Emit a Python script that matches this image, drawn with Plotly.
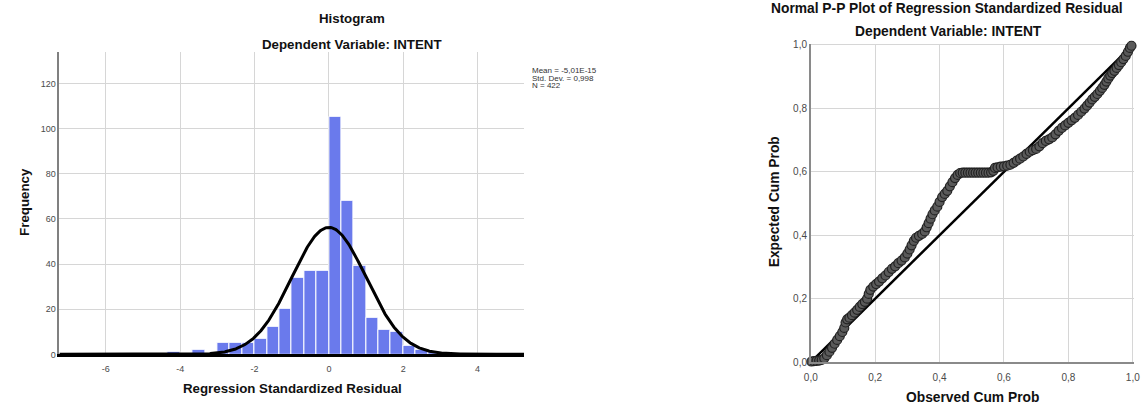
import math
import plotly.graph_objects as go

W, H = 1145, 415

# ---------------- Histogram data ----------------
bin_start = -13 / 3          # left edge of first bin
bin_width = 1 / 3
counts = [1, 0, 2, 0, 5, 5, 5, 7, 12, 20, 34, 37, 37, 105, 68, 39, 16, 11, 10, 4, 2, 1]
hist_mean = -5.01e-15
hist_sd = 0.998
hist_n = 422
hist_xticks = [-6, -4, -2, 0, 2, 4]
hist_yticks = [0, 20, 40, 60, 80, 100, 120]
stats_lines = ["Mean = -5,01E-15", "Std. Dev. = 0,998", "N = 422"]

# ---------------- P-P plot data ----------------
obs_cum = [0.002, 0.010, 0.018, 0.026, 0.034, 0.042, 0.050, 0.058, 0.066, 0.074, 0.082, 0.090,
           0.098, 0.104, 0.108, 0.113, 0.120, 0.128, 0.136, 0.144, 0.152, 0.160, 0.168, 0.175,
           0.180, 0.185, 0.194, 0.203, 0.212, 0.222, 0.232, 0.242, 0.252, 0.262, 0.272, 0.282,
           0.292, 0.300, 0.307, 0.313, 0.320, 0.327, 0.336, 0.346, 0.354, 0.360, 0.366, 0.372,
           0.378, 0.385, 0.393, 0.400, 0.408, 0.416, 0.424, 0.432, 0.440, 0.448, 0.456, 0.464,
           0.472, 0.480, 0.488, 0.496, 0.504, 0.512, 0.520, 0.528, 0.536, 0.544, 0.552, 0.560,
           0.567, 0.572, 0.580, 0.590, 0.600, 0.610, 0.620, 0.630, 0.640, 0.650, 0.660, 0.670,
           0.680, 0.690, 0.700, 0.710, 0.720, 0.730, 0.740, 0.750, 0.760, 0.770, 0.780, 0.790,
           0.800, 0.810, 0.820, 0.830, 0.840, 0.850, 0.858, 0.866, 0.874, 0.882, 0.890, 0.898,
           0.905, 0.912, 0.918, 0.924, 0.930, 0.936, 0.943, 0.950, 0.957, 0.964, 0.971, 0.978,
           0.985, 0.991, 0.996]
exp_cum = [0.002, 0.003, 0.004, 0.005, 0.007, 0.012, 0.022, 0.033, 0.045, 0.058, 0.070, 0.082,
           0.095, 0.108, 0.125, 0.135, 0.140, 0.148, 0.156, 0.165, 0.174, 0.183, 0.190, 0.200,
           0.215, 0.228, 0.238, 0.246, 0.254, 0.264, 0.273, 0.284, 0.294, 0.302, 0.312, 0.320,
           0.330, 0.342, 0.355, 0.368, 0.382, 0.392, 0.398, 0.404, 0.412, 0.425, 0.438, 0.452,
           0.466, 0.478, 0.490, 0.505, 0.520, 0.530, 0.540, 0.554, 0.567, 0.580, 0.590, 0.596,
           0.597, 0.597, 0.597, 0.597, 0.597, 0.597, 0.597, 0.597, 0.597, 0.597, 0.597, 0.598,
           0.603, 0.612, 0.614, 0.616, 0.617, 0.619, 0.622, 0.628, 0.635, 0.641, 0.648, 0.656,
           0.663, 0.668, 0.672, 0.680, 0.690, 0.697, 0.702, 0.708, 0.718, 0.729, 0.738, 0.746,
           0.754, 0.762, 0.770, 0.779, 0.789, 0.799, 0.808, 0.818, 0.828, 0.836, 0.845, 0.855,
           0.864, 0.874, 0.884, 0.894, 0.903, 0.911, 0.918, 0.927, 0.936, 0.945, 0.955, 0.965,
           0.978, 0.990, 0.997]
diag_x = [0, 1]
diag_y = [0, 1]
pp_ticks = [0, 0.2, 0.4, 0.6, 0.8, 1.0]
pp_ticklabels = ["0,0", "0,2", "0,4", "0,6", "0,8", "1,0"]


def px_x(x):
    return x / W


def px_y(y):
    return 1 - y / H


FONT = "Liberation Sans, Arial, sans-serif"
GRID = "#d6d6d6"
TICKC = "#4a4a4a"

fig = go.Figure()

# histogram bars
centers = [bin_start + (i + 0.5) * bin_width for i in range(len(counts))]
fig.add_trace(go.Bar(
    x=centers, y=counts, width=bin_width,
    marker=dict(color="#6a7aec", line=dict(color="#ffffff", width=1)),
    xaxis="x", yaxis="y", showlegend=False,
))

# normal curve from mean / sd / N
xs = [-7.25 + i * 0.02 for i in range(int(12.5 / 0.02) + 1)]
ys = [hist_n * bin_width / (hist_sd * math.sqrt(2 * math.pi)) *
      math.exp(-0.5 * ((x - hist_mean) / hist_sd) ** 2) for x in xs]
fig.add_trace(go.Scatter(
    x=xs, y=ys, mode="lines", line=dict(color="#000000", width=3),
    xaxis="x", yaxis="y", showlegend=False,
))

# P-P diagonal
fig.add_trace(go.Scatter(
    x=diag_x, y=diag_y, mode="lines", line=dict(color="#000000", width=2.5),
    xaxis="x2", yaxis="y2", showlegend=False,
))
# P-P points
fig.add_trace(go.Scatter(
    x=obs_cum, y=exp_cum, mode="markers",
    marker=dict(size=9, color="#5a5a5a", line=dict(color="#222222", width=1.2)),
    xaxis="x2", yaxis="y2", showlegend=False, cliponaxis=False,
))

fig.update_layout(
    width=W, height=H,
    margin=dict(l=0, r=0, t=0, b=0),
    paper_bgcolor="white", plot_bgcolor="white",
    font=dict(family=FONT, color=TICKC),
    bargap=0,
    xaxis=dict(
        domain=[px_x(53), px_x(523)], range=[-7.25, 5.25],
        tickvals=hist_xticks, ticktext=[str(v) for v in hist_xticks],
        showgrid=True, gridcolor=GRID, gridwidth=1, zeroline=False,
        showline=True, linecolor="#000000", linewidth=3,
        ticks="", tickfont=dict(size=9, color=TICKC, family=FONT),
        ticklabelstandoff=4,
        anchor="y",
    ),
    yaxis=dict(
        domain=[px_y(359), px_y(49)], range=[0, 134],
        tickvals=hist_yticks, ticktext=[str(v) for v in hist_yticks],
        showgrid=True, gridcolor=GRID, gridwidth=1, zeroline=False,
        showline=True, linecolor="#808080", linewidth=1.5,
        ticks="", tickfont=dict(size=9, color=TICKC, family=FONT),
        anchor="x",
    ),
    xaxis2=dict(
        domain=[px_x(813), px_x(1140)], range=[0, 1.004],
        tickvals=pp_ticks, ticktext=pp_ticklabels,
        showgrid=True, gridcolor=GRID, gridwidth=1, zeroline=False,
        showline=True, linecolor="#8a8a8a", linewidth=1.5,
        ticks="", tickfont=dict(size=10, color=TICKC, family=FONT),
        ticklabeloverflow="allow", ticklabelstandoff=5,
        anchor="y2",
    ),
    yaxis2=dict(
        domain=[px_y(367), px_y(40.5)], range=[0, 1.004],
        tickvals=pp_ticks, ticktext=pp_ticklabels,
        showgrid=True, gridcolor=GRID, gridwidth=1, zeroline=False,
        showline=True, linecolor="#8a8a8a", linewidth=1.5,
        ticks="", tickfont=dict(size=10, color=TICKC, family=FONT),
        anchor="x2",
    ),
)

TITLEC = "#111111"


def ann(text, x, y, size, bold=True, angle=0, xanchor="center", color=TITLEC):
    fig.add_annotation(
        text=f"<b>{text}</b>" if bold else text,
        x=px_x(x), y=px_y(y), xref="paper", yref="paper",
        xanchor=xanchor, yanchor="middle", showarrow=False, textangle=angle,
        font=dict(size=size, color=color, family=FONT),
    )


# histogram texts
ann("Histogram", 349, 15, 13.3)
ann("Dependent Variable: INTENT", 349, 41, 13.3)
ann("Regression Standardized Residual", 289, 394, 13.3)
ann("Frequency", 17, 203, 13.3, angle=-90)
for i, line in enumerate(stats_lines):
    ann(line, 529, 68 + i * 8, 8, bold=False, xanchor="left", color="#333333")

# P-P texts
ann("Normal P-P Plot of Regression Standardized Residual", 951, 5, 13.8)
ann("Dependent Variable: INTENT", 952, 28, 13.8)
ann("Observed Cum Prob", 977, 403, 13.8)
ann("Expected Cum Prob", 776, 203, 13.8, angle=-90)

fig.write_html("out.html")
